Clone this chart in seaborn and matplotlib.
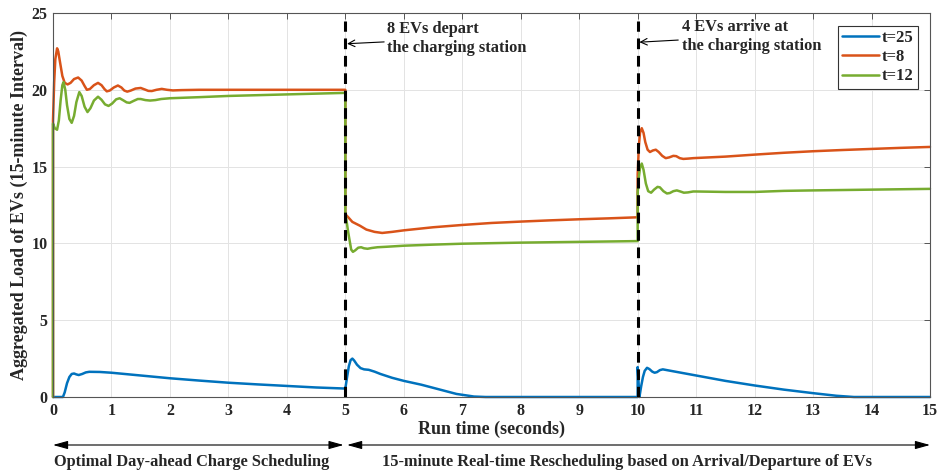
import matplotlib
matplotlib.use("Agg")
import matplotlib.pyplot as plt
import seaborn as sns
import pandas as pd

# ---------------- data ----------------
time_t25 = [0, 0.17, 0.20, 0.24, 0.28, 0.32, 0.36, 0.40, 0.44, 0.50, 0.56, 0.62, 0.80, 1.0, 1.5, 2.0, 2.5, 3.0,
            3.5, 4.0, 4.5, 5.0,
            5.03, 5.06, 5.09, 5.12, 5.15, 5.20, 5.26, 5.32, 5.40, 5.50, 5.60, 5.8, 6.0, 6.3, 6.6, 6.9, 7.2, 7.4,
            8.0, 9.0, 10.0,
            10.0, 10.03, 10.06, 10.09, 10.12, 10.16, 10.20, 10.25, 10.29, 10.33, 10.38, 10.43, 10.5, 11.0, 11.5,
            12.0, 12.5, 13.0, 13.4, 13.7, 14.0, 15.0]
load_t25 = [0, 0, 0.3, 0.9, 1.3, 1.5, 1.53, 1.47, 1.43, 1.5, 1.6, 1.64, 1.63, 1.58, 1.4, 1.22, 1.07, 0.93,
            0.82, 0.72, 0.62, 0.55,
            1.3, 2.0, 2.4, 2.5, 2.38, 2.1, 1.88, 1.8, 1.77, 1.65, 1.5, 1.25, 1.05, 0.8, 0.5, 0.2, 0.03, 0.0,
            0.0, 0.0, 0.0,
            1.95, 0.0, 0.7, 1.3, 1.7, 1.9, 1.82, 1.65, 1.58, 1.62, 1.75, 1.8, 1.75, 1.4, 1.05,
            0.75, 0.48, 0.25, 0.08, 0.0, 0.0, 0.0]

time_t8 = [0, 0, 0.02, 0.04, 0.07, 0.09, 0.12, 0.16, 0.20, 0.25, 0.30, 0.36, 0.43, 0.49, 0.54, 0.58, 0.63, 0.70,
           0.77, 0.83, 0.88, 0.92, 0.97, 1.04, 1.11, 1.17, 1.22, 1.27, 1.33, 1.41, 1.50, 1.57, 1.63, 1.69,
           1.77, 1.86, 1.95, 2.05, 2.2, 2.5, 3.0, 4.0, 5.0,
           5.0, 5.05, 5.12, 5.25, 5.36, 5.5, 5.63, 5.8, 6.0, 6.5, 7.0, 7.5, 8.0, 8.5, 9.0, 9.5, 10.0,
           10.0, 10.02, 10.04, 10.07, 10.10, 10.13, 10.17, 10.21, 10.26, 10.31, 10.36, 10.42, 10.48, 10.54,
           10.61, 10.66, 10.72, 10.78, 10.86, 10.95, 11.0, 11.5, 12.0, 12.5, 13.0, 13.5, 14.0, 14.5, 15.0]
load_t8 = [0, 18.0, 20.5, 22.0, 22.7, 22.5, 21.8, 20.9, 20.45, 20.35, 20.45, 20.7, 20.8, 20.6, 20.25, 20.0, 20.05, 20.3,
           20.45, 20.3, 20.05, 19.9, 19.95, 20.15, 20.28, 20.15, 19.95, 19.88, 19.95, 20.08, 20.12, 20.02, 19.93, 19.92,
           20.0, 20.06, 20.0, 19.96, 19.98, 20.0, 20.0, 20.0, 20.0,
           11.9, 11.7, 11.4, 11.15, 10.9, 10.75, 10.68, 10.75, 10.85, 11.05, 11.2, 11.33, 11.42, 11.5, 11.57, 11.63, 11.7,
           14.5, 16.3, 17.2, 17.5, 17.2, 16.6, 16.1, 15.95, 16.05, 16.1, 15.95, 15.7, 15.55, 15.6,
           15.7, 15.68, 15.55, 15.5, 15.52, 15.55, 15.56, 15.65, 15.78, 15.9, 16.0, 16.08, 16.15, 16.22, 16.28]

time_t12 = [0, 0, 0.03, 0.07, 0.10, 0.13, 0.16, 0.18, 0.21, 0.24, 0.28, 0.32, 0.36, 0.40, 0.45, 0.49, 0.54, 0.59,
            0.64, 0.70, 0.77, 0.83, 0.89, 0.95, 1.01, 1.08, 1.14, 1.20, 1.26, 1.31, 1.38, 1.45, 1.50, 1.58, 1.66,
            1.75, 1.85, 2.0, 2.5, 3.0, 3.5, 4.0, 4.5, 5.0,
            5.0, 5.05, 5.10, 5.13, 5.17, 5.22, 5.27, 5.32, 5.38, 5.45, 5.55, 5.7, 6.0, 6.5, 7.0, 8.0, 9.0, 10.0,
            10.0, 10.02, 10.04, 10.07, 10.10, 10.14, 10.18, 10.23, 10.28, 10.34, 10.38, 10.44, 10.50, 10.55,
            10.61, 10.67, 10.73, 10.79, 10.86, 10.95, 11.0, 11.5, 12.0, 12.5, 13.0, 14.0, 15.0]
load_t12 = [0, 17.8, 17.5, 17.4, 18.0, 19.3, 20.3, 20.5, 20.0, 19.0, 18.1, 17.85, 18.3, 19.2, 19.85, 19.6, 18.9, 18.55,
            18.8, 19.3, 19.55, 19.35, 19.05, 18.95, 19.1, 19.38, 19.45, 19.32, 19.18, 19.15, 19.28, 19.4, 19.4, 19.33, 19.3,
            19.33, 19.4, 19.45, 19.52, 19.6, 19.65, 19.7, 19.75, 19.8,
            12.0, 10.7, 9.6, 9.45, 9.55, 9.72, 9.75, 9.68, 9.65, 9.7, 9.75, 9.78, 9.85, 9.92, 9.98, 10.05, 10.1, 10.15,
            13.3, 14.3, 14.9, 15.2, 14.8, 13.9, 13.4, 13.3, 13.5, 13.68, 13.65, 13.4, 13.25, 13.28,
            13.4, 13.45, 13.38, 13.3, 13.32, 13.38, 13.38, 13.35, 13.35, 13.42, 13.45, 13.5, 13.55]

series_labels = ["t=25", "t=8", "t=12"]
series_colors = ["#0072BD", "#D95319", "#77AC30"]
event_times = [5, 10]
x_ticks = list(range(0, 16))
y_ticks = [0, 5, 10, 15, 20, 25]

# ---------------- figure ----------------
sns.set_style("white")
plt.rcParams["font.family"] = ["Liberation Serif", "DejaVu Serif"]
plt.rcParams["font.weight"] = "bold"

frames = []
for lab, t, v in zip(series_labels, [time_t25, time_t8, time_t12], [load_t25, load_t8, load_t12]):
    frames.append(pd.DataFrame({"time": t, "load": v, "series": lab}))
df = pd.concat(frames, ignore_index=True)

fig = plt.figure(figsize=(9.39, 4.70), dpi=100)
ax = fig.add_axes([53 / 939, 1 - 397 / 470, 877 / 939, 384 / 470])

sns.lineplot(data=df, x="time", y="load", hue="series", hue_order=series_labels,
             palette=series_colors, estimator=None, sort=False, lw=1.8, ax=ax)
for ln in ax.get_lines():
    ln.set_clip_on(False)
    ln.set_solid_joinstyle("round")

for et in event_times:
    ax.plot([et, et], [0, 24.5], color="black", lw=2.2, ls=(0, (3.5, 2.2)), zorder=5)

ax.set_xlim(0, 15)
ax.set_ylim(0, 25)
ax.set_xticks(x_ticks)
ax.set_yticks(y_ticks)
ax.grid(True, color="#e3e3e3", lw=0.7)
ax.set_axisbelow(True)
for sp in ax.spines.values():
    sp.set_color("#555555")
    sp.set_linewidth(0.8)
ax.tick_params(direction="in", length=4, width=0.7, color="#555555", top=True, right=True,
               labelsize=11.5, pad=4)
for lbl in ax.get_xticklabels() + ax.get_yticklabels():
    lbl.set_fontweight("bold")

ax.set_xlabel("Run time (seconds)", fontsize=13, fontweight="bold")
ax.xaxis.set_label_coords(0.5, -0.062)
ax.set_ylabel("Aggregated Load of EVs (15-minute Interval)", fontsize=13, fontweight="bold")
ax.yaxis.set_label_coords(-0.029, 0.5)

handles, labels = ax.get_legend_handles_labels()
leg = ax.legend(handles, labels, loc="upper right", fontsize=12, frameon=True, fancybox=False,
                edgecolor="#333333", framealpha=1, handlelength=2.2, handletextpad=0.15,
                labelspacing=0.2, borderpad=0.25, borderaxespad=0.75)
leg.get_frame().set_linewidth(0.8)
for txt in leg.get_texts():
    txt.set_fontweight("bold")

ax.annotate("8 EVs depart\nthe charging station", xy=(5.03, 23.0), xytext=(5.72, 23.35),
            fontsize=11.8, fontweight="bold", va="center", ha="left", linespacing=1.25,
            arrowprops=dict(arrowstyle="->", lw=0.8, color="black", shrinkA=0, shrinkB=0))
ax.annotate("4 EVs arrive at\nthe charging station", xy=(10.03, 23.1), xytext=(10.75, 23.5),
            fontsize=11.8, fontweight="bold", va="center", ha="left", linespacing=1.25,
            arrowprops=dict(arrowstyle="->", lw=0.8, color="black", shrinkA=0, shrinkB=0))

tr = ("data", "axes fraction")
ax.annotate("", xy=(0, -0.125), xytext=(4.97, -0.125), xycoords=tr, textcoords=tr, annotation_clip=False,
            arrowprops=dict(arrowstyle="<|-|>,head_length=0.9,head_width=0.25", lw=0.8, color="black",
                            shrinkA=0, shrinkB=0))
ax.annotate("", xy=(5.03, -0.125), xytext=(15.0, -0.125), xycoords=tr, textcoords=tr, annotation_clip=False,
            arrowprops=dict(arrowstyle="<|-|>,head_length=0.9,head_width=0.25", lw=0.8, color="black",
                            shrinkA=0, shrinkB=0))
ax.text(2.37, -0.17, "Optimal Day-ahead Charge Scheduling", transform=ax.get_xaxis_transform(),
        ha="center", va="center", fontsize=11.8, fontweight="bold")
ax.text(9.82, -0.17, "15-minute Real-time Rescheduling based on Arrival/Departure of EVs",
        transform=ax.get_xaxis_transform(), ha="center", va="center", fontsize=11.8, fontweight="bold")

fig.savefig("out.png", dpi=100)
